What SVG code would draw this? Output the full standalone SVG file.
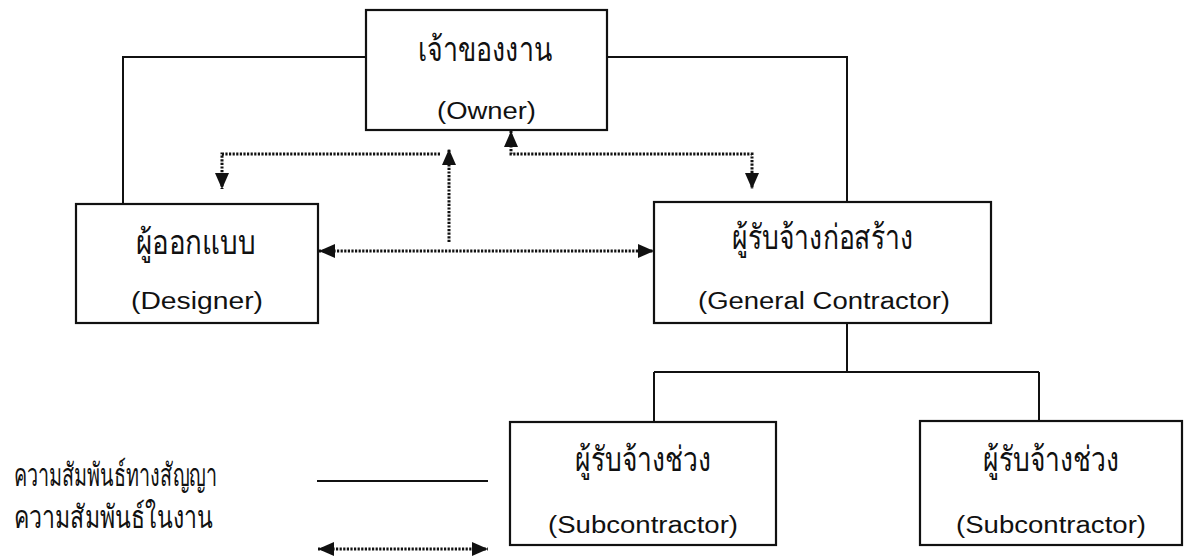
<svg xmlns="http://www.w3.org/2000/svg" width="1191" height="556" viewBox="0 0 1191 556">
  <defs>
    <style>
      .box { fill: #ffffff; stroke: #111; stroke-width: 2.2; }
      .solid { fill: none; stroke: #111; stroke-width: 2; }
      .dot { fill: none; stroke: #111; stroke-width: 3; stroke-dasharray: 2.2 1.4; }
      .th { font-family: "Noto Sans", "Liberation Sans", sans-serif; font-size: 34px; fill: #111; }
      .en { font-family: "Liberation Sans", Arial, sans-serif; font-size: 23px; fill: #111; }
      .lg { font-family: "Noto Sans", "Liberation Serif", serif; font-size: 32px; fill: #111; }
    </style>
    <marker id="ah" viewBox="0 0 16 14" refX="16" refY="7" markerWidth="16" markerHeight="14" markerUnits="userSpaceOnUse" orient="auto-start-reverse">
      <path d="M0,0 L16,7 L0,14 z" fill="#111"/>
    </marker>
  </defs>
  <rect width="1191" height="556" fill="#ffffff"/>

  <g id="connectors">
    <path class="solid" d="M366,57 H123 V204"/>
    <path class="solid" d="M607,57 H847 V202"/>
    <path class="solid" d="M847,323 V372 M654,372 H1039 M654,372 V422 M1039,372 V421"/>
    <path class="dot" d="M440,154 H222 V189" marker-end="url(#ah)"/>
    <path class="dot" d="M449,242 V149" marker-end="url(#ah)"/>
    <path class="dot" d="M511,131 V154 H752 V189" marker-start="url(#ah)" marker-end="url(#ah)"/>
    <path class="dot" d="M319,251 H654" marker-start="url(#ah)" marker-end="url(#ah)"/>
  </g>

  <g id="owner">
    <rect class="box" x="366" y="10" width="241" height="120"/>
    <text class="th" x="485" y="61" text-anchor="middle" textLength="134" lengthAdjust="spacingAndGlyphs">เจ้าของงาน</text>
    <text class="en" x="486.5" y="119" text-anchor="middle" textLength="99" lengthAdjust="spacingAndGlyphs">(Owner)</text>
  </g>

  <g id="designer">
    <rect class="box" x="76" y="204" width="242" height="119"/>
    <text class="th" x="196" y="254" text-anchor="middle" textLength="120" lengthAdjust="spacingAndGlyphs">ผู้ออกแบบ</text>
    <text class="en" x="197" y="309" text-anchor="middle" textLength="132" lengthAdjust="spacingAndGlyphs">(Designer)</text>
  </g>

  <g id="contractor">
    <rect class="box" x="654" y="202" width="337" height="121"/>
    <text class="th" x="822.5" y="249" text-anchor="middle" textLength="181" lengthAdjust="spacingAndGlyphs">ผู้รับจ้างก่อสร้าง</text>
    <text class="en" x="824" y="309" text-anchor="middle" textLength="252" lengthAdjust="spacingAndGlyphs">(General Contractor)</text>
  </g>

  <g id="sub1">
    <rect class="box" x="510" y="422" width="266" height="123"/>
    <text class="th" x="643" y="471" text-anchor="middle" textLength="136" lengthAdjust="spacingAndGlyphs">ผู้รับจ้างช่วง</text>
    <text class="en" x="643" y="533" text-anchor="middle" textLength="190" lengthAdjust="spacingAndGlyphs">(Subcontractor)</text>
  </g>

  <g id="sub2">
    <rect class="box" x="920" y="421" width="262" height="124"/>
    <text class="th" x="1051" y="471" text-anchor="middle" textLength="136" lengthAdjust="spacingAndGlyphs">ผู้รับจ้างช่วง</text>
    <text class="en" x="1051" y="533" text-anchor="middle" textLength="190" lengthAdjust="spacingAndGlyphs">(Subcontractor)</text>
  </g>

  <g id="legend">
    <text class="lg" x="14" y="486" textLength="203" lengthAdjust="spacingAndGlyphs">ความสัมพันธ์ทางสัญญา</text>
    <text class="lg" x="14" y="528" textLength="199" lengthAdjust="spacingAndGlyphs">ความสัมพันธ์ในงาน</text>
    <line class="solid" x1="317" y1="481" x2="488" y2="481"/>
    <path class="dot" d="M318,549 H488" marker-start="url(#ah)" marker-end="url(#ah)"/>
  </g>
</svg>
